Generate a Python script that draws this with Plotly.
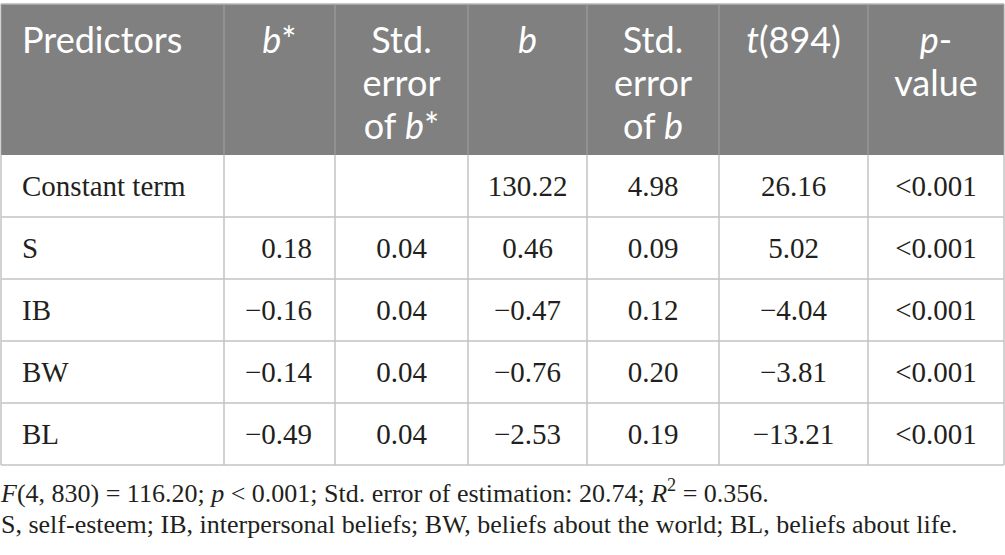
import plotly.graph_objects as go

# table content
headers = [
    "Predictors",
    "<i>b</i>*",
    "Std.<br>error<br>of <i>b</i>*",
    "<i>b</i>",
    "Std.<br>error<br>of <i>b</i>",
    "<i>t</i>(894)",
    "<i>p</i>-<br>value",
]
predictors = ["Constant term", "S", "IB", "BW", "BL"]
b_std = ["", "0.18", "\u22120.16", "\u22120.14", "\u22120.49"]
se_b_std = ["", "0.04", "0.04", "0.04", "0.04"]
b_raw = ["130.22", "0.46", "\u22120.47", "\u22120.76", "\u22122.53"]
se_b_raw = ["4.98", "0.09", "0.12", "0.20", "0.19"]
t_values = ["26.16", "5.02", "\u22124.04", "\u22123.81", "\u221213.21"]
p_values = ["<0.001", "<0.001", "<0.001", "<0.001", "<0.001"]

footnotes = [
    "<i>F</i>(4, 830) = 116.20; <i>p</i> &lt; 0.001; Std. error of estimation: 20.74; "
    "<i>R</i><sup>2</sup> = 0.356.",
    "S, self-esteem; IB, interpersonal beliefs; BW, beliefs about the world; "
    "BL, beliefs about life.",
]

columns = [predictors, b_std, se_b_std, b_raw, se_b_raw, t_values, p_values]

# layout of the grid (pixels)
W, H = 1005, 555
col_widths = [223, 111, 133, 119, 132, 149, 136]
left = 1
header_top, header_h = 4, 151
row_h = 62
head_size, body_size, note_size = 36, 29, 26
line_gap = 43.3
pad_left, pad_right = 21, 23

edges = [left]
for w in col_widths:
    edges.append(edges[-1] + w)
body_top = header_top + header_h
row_edges = [body_top + i * row_h for i in range(len(predictors) + 1)]

header_fill = "#7f807f"
grid_color = "#c3c3c3"
text_color = "#231f20"

fig = go.Figure()

# header background and grid lines
fig.add_shape(type="rect", x0=edges[0], x1=edges[-1], y0=header_top, y1=body_top,
              fillcolor=header_fill, line_width=0, layer="below")
fig.add_shape(type="line", x0=edges[0], x1=edges[-1], y0=header_top, y1=header_top,
              line=dict(color="#b4b4b4", width=1.5))
for x in edges:
    fig.add_shape(type="line", x0=x, x1=x, y0=header_top, y1=body_top,
                  line=dict(color="#a2a2a2", width=1))
    fig.add_shape(type="line", x0=x, x1=x, y0=body_top, y1=row_edges[-1],
                  line=dict(color=grid_color, width=1.5))
for y in row_edges[1:]:
    fig.add_shape(type="line", x0=edges[0], x1=edges[-1], y0=y, y1=y,
                  line=dict(color=grid_color, width=1.5))

# header texts, one line at a time
hx, hy, ht, hpos = [], [], [], []
for i, label in enumerate(headers):
    for k, part in enumerate(label.split("<br>")):
        if i == 0:
            hx.append(edges[i] + pad_left)
            hpos.append("middle right")
        else:
            hx.append((edges[i] + edges[i + 1]) / 2)
            hpos.append("middle center")
        hy.append(header_top + 39.5 + k * line_gap)
        ht.append(part)
fig.add_trace(go.Scatter(
    x=hx, y=hy, text=ht, mode="text", textposition=hpos,
    textfont=dict(family="Lato", size=head_size, color="white"),
    hoverinfo="skip", showlegend=False,
))

# body cells (empty cells are skipped)
for i, values in enumerate(columns):
    if i == 0:
        x, pos = edges[i] + pad_left, "middle right"
    elif i == 1:
        x, pos = edges[i + 1] - pad_right, "middle left"
    else:
        x, pos = (edges[i] + edges[i + 1]) / 2, "middle center"
    rows = [r for r, v in enumerate(values) if v]
    fig.add_trace(go.Scatter(
        x=[x] * len(rows),
        y=[(row_edges[r] + row_edges[r + 1]) / 2 + 3 for r in rows],
        text=[values[r].replace("<", "&lt;") for r in rows],
        mode="text", textposition=pos,
        textfont=dict(family="Liberation Serif", size=body_size, color=text_color),
        hoverinfo="skip", showlegend=False,
    ))

# footnotes
fig.add_trace(go.Scatter(
    x=[left, left], y=[495, 526], text=footnotes,
    mode="text", textposition="middle right",
    textfont=dict(family="Liberation Serif", size=note_size, color=text_color),
    hoverinfo="skip", showlegend=False,
))

fig.update_layout(
    width=W, height=H,
    margin=dict(l=0, r=0, t=0, b=0),
    paper_bgcolor="white", plot_bgcolor="white",
    xaxis=dict(range=[0, W], visible=False, fixedrange=True),
    yaxis=dict(range=[H, 0], visible=False, fixedrange=True),
)

fig.write_html("out.html", config={"displayModeBar": False},
               post_script="document.body.style.margin = '0';")
